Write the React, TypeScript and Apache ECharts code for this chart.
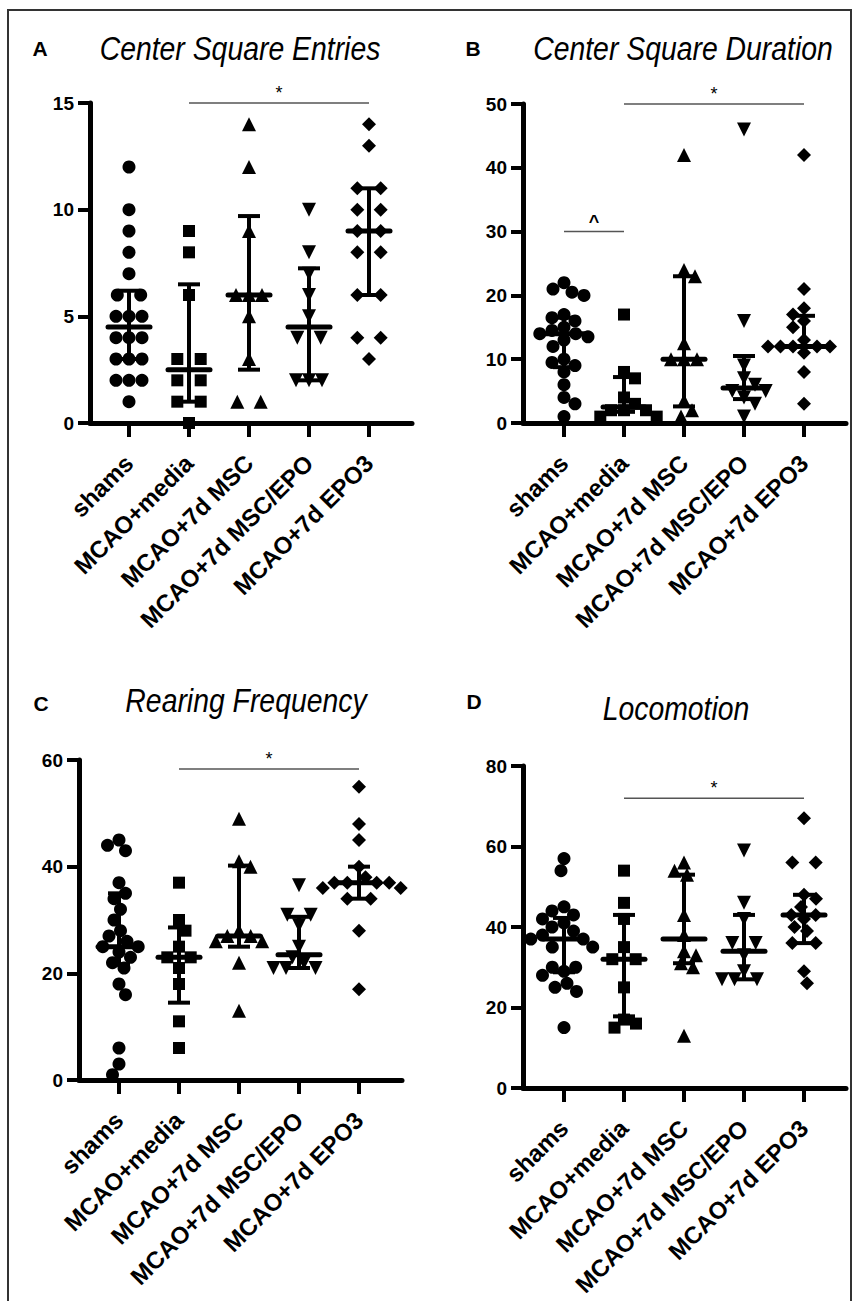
import React, { useEffect, useRef } from "react";
import * as echarts from "echarts";

const categories = ["shams", "MCAO+media", "MCAO+7d MSC", "MCAO+7d MSC/EPO", "MCAO+7d EPO3"];

// A: Center Square Entries
const entriesShams = [12, 10, 9, 8, 7, 6, 6, 5, 5, 5, 4, 4, 4, 3, 3, 3, 2, 2, 2, 1];
const entriesMedia = [9, 8, 6, 3, 3, 2, 2, 1, 1, 0];
const entriesMSC = [14, 12, 9, 6, 6, 6, 5, 3, 1, 1];
const entriesMSCEPO = [10, 8, 7, 6, 5, 4, 4, 2, 2, 2];
const entriesEPO3 = [14, 13, 11, 11, 10, 10, 9, 9, 8, 8, 6, 6, 4, 4, 3];
const entriesMedian = [4.5, 2.5, 6, 4.5, 9];
const entriesQ1 = [3, 1, 2.5, 2, 6];
const entriesQ3 = [6.2, 6.5, 9.7, 7.25, 11];
const entriesSig = [[1, 4, 15]];
const entriesSigMark = ["*"];

// B: Center Square Duration
const durShams = [22, 21, 20.5, 20, 17, 16.5, 16, 15, 14.5, 14, 14, 13.5, 13, 12, 10, 9.5, 9, 8, 6, 4, 3, 1];
const durMedia = [17, 8, 7, 4, 3, 2, 2, 2, 1, 1];
const durMSC = [42, 24, 23, 12.5, 10, 10, 10, 3.5, 2, 1];
const durMSCEPO = [46, 16, 9, 7, 6, 5, 5, 4, 3, 1];
const durEPO3 = [42, 21, 18, 17, 16, 15, 13, 12, 12, 12, 12, 12, 11, 8, 3];
const durMedian = [14, 2.5, 10, 5.5, 12];
const durQ1 = [8.75, 1.75, 2.6, 3.75, 12];
const durQ3 = [16.5, 7.2, 23, 10.5, 16.8];
const durSig = [[1, 4, 50], [0, 1, 30]];
const durSigMark = ["*", "^"];

// C: Rearing Frequency
const rearShams = [45, 44, 43, 37, 35, 34, 32, 30, 28, 27, 26, 25, 25, 24, 23, 22, 21, 18, 16, 6, 3, 1];
const rearMedia = [37, 30, 28, 25, 23, 23, 21, 18, 11, 6];
const rearMSC = [49, 41, 40, 28, 27, 27, 26, 26, 22, 13];
const rearMSCEPO = [36.5, 31, 31, 29, 25, 23, 22, 21, 21, 21];
const rearEPO3 = [55, 48, 45, 40, 38, 37, 37, 37, 37, 36, 36, 34, 34, 28, 17];
const rearMedian = [25, 23, 27, 23.5, 37];
const rearQ1 = [21.6, 14.5, 25, 21, 34];
const rearQ3 = [35, 28.6, 40.2, 30.6, 40];
const rearSig = [[1, 4, 58.3]];
const rearSigMark = ["*"];

// D: Locomotion
const locoShams = [57, 54, 45, 44, 43, 42, 41, 40, 39, 38, 37, 37, 35, 35, 30, 30, 29, 28, 26, 25, 24, 15];
const locoMedia = [54, 46, 42, 35, 32, 32, 25, 17, 16, 15];
const locoMSC = [56, 54, 53, 43, 38, 34, 33, 31, 30, 13];
const locoMSCEPO = [59, 46, 42, 36, 36, 33, 29, 27, 27, 27];
const locoEPO3 = [67, 56, 56, 48, 47, 45, 43, 43, 42, 40, 39, 36, 36, 29, 26];
const locoMedian = [37, 32, 37, 34, 43];
const locoQ1 = [28.75, 17.8, 31, 27, 36];
const locoQ3 = [42.25, 43, 53, 43, 48];
const locoSig = [[1, 4, 72]];
const locoSigMark = ["*"];

const yTicksA = { max: 15, interval: 5 };
const yTicksB = { max: 50, interval: 10 };
const yTicksC = { max: 60, interval: 20 };
const yTicksD = { max: 80, interval: 20 };

const FONT = '"Liberation Sans", Arial, Helvetica, sans-serif';
const CAT_PX = 60;

const panels = [
  {
    letter: "A", title: "Center Square Entries",
    groups: [entriesShams, entriesMedia, entriesMSC, entriesMSCEPO, entriesEPO3],
    med: entriesMedian, q1: entriesQ1, q3: entriesQ3, sig: entriesSig, sigMark: entriesSigMark, y: yTicksA,
    layout: { left: 90, top: 103, width: 322, height: 320, firstCat: 39, letterX: 40, letterY: 48, titleX: 240, titleY: 49 },
  },
  {
    letter: "B", title: "Center Square Duration",
    groups: [durShams, durMedia, durMSC, durMSCEPO, durEPO3],
    med: durMedian, q1: durQ1, q3: durQ3, sig: durSig, sigMark: durSigMark, y: yTicksB,
    layout: { left: 523, top: 104, width: 323, height: 319, firstCat: 41, letterX: 473, letterY: 48, titleX: 683, titleY: 49 },
  },
  {
    letter: "C", title: "Rearing Frequency",
    groups: [rearShams, rearMedia, rearMSC, rearMSCEPO, rearEPO3],
    med: rearMedian, q1: rearQ1, q3: rearQ3, sig: rearSig, sigMark: rearSigMark, y: yTicksC,
    layout: { left: 79, top: 760, width: 323, height: 320, firstCat: 40, letterX: 41, letterY: 703, titleX: 246, titleY: 701 },
  },
  {
    letter: "D", title: "Locomotion",
    groups: [locoShams, locoMedia, locoMSC, locoMSCEPO, locoEPO3],
    med: locoMedian, q1: locoQ1, q3: locoQ3, sig: locoSig, sigMark: locoSigMark, y: yTicksD,
    layout: { left: 523, top: 766, width: 323, height: 322, firstCat: 41, letterX: 474, letterY: 701, titleX: 676, titleY: 709 },
  },
];

const symbols = [
  { symbol: "circle", size: 13, rotate: 0 },
  { symbol: "rect", size: 12, rotate: 0 },
  { symbol: "triangle", size: 14, rotate: 0 },
  { symbol: "triangle", size: 14, rotate: 180 },
  { symbol: "diamond", size: 14, rotate: 0 },
];

// beeswarm-like horizontal spreading in pixel space
function swarm(values: number[], pxY: number, d: number): number[] {
  const order = values.map((_, i) => i).sort((a, b) => values[b] - values[a]);
  const groups: number[][] = [];
  for (const i of order) {
    const g = groups[groups.length - 1];
    if (g && values[g[0]] === values[i]) g.push(i);
    else groups.push([i]);
  }
  const placed: { x: number; y: number }[] = [];
  const off = new Array(values.length).fill(0);
  const free = (x: number, y: number) =>
    placed.every((p) => (p.x - x) * (p.x - x) + (p.y - y) * (p.y - y) >= d * d * 0.9);
  for (const g of groups) {
    const n = g.length;
    const y = values[g[0]] * pxY;
    const slots: number[] = [];
    if (n % 2 === 1) {
      slots.push(0);
      for (let k = 1; slots.length < n; k++) slots.push(k * d, -k * d);
    } else {
      for (let k = 0; slots.length < n; k++) slots.push((k + 0.9) * d, -(k + 0.9) * d);
    }
    for (let j = 0; j < n; j++) {
      const x0 = slots[j];
      const dir = x0 === 0 ? (placed.length % 2 === 0 ? 1 : -1) : Math.sign(x0);
      let x = x0;
      for (let s = 0; s < 800; s++) {
        const a = x0 + dir * s * 0.5;
        const b = x0 - dir * s * 0.5;
        if (free(a, y)) { x = a; break; }
        if (x0 === 0 && free(b, y)) { x = b; break; }
      }
      placed.push({ x, y });
      off[g[j]] = x;
    }
  }
  return off;
}

export default function App() {
  const ref = useRef<HTMLDivElement>(null);
  useEffect(() => {
    if (!ref.current) return;
    const chart = echarts.init(ref.current, undefined, { renderer: "svg" });
    const grid: any[] = [];
    const xAxis: any[] = [];
    const yAxis: any[] = [];
    const series: any[] = [];
    const graphic: any[] = [];

    graphic.push({
      type: "rect", shape: { x: 8, y: 10, width: 843, height: 1330 },
      style: { fill: "none", stroke: "#333", lineWidth: 2 }, silent: true,
    });

    panels.forEach((p, pi) => {
      const L = p.layout;
      grid.push({ left: L.left, top: L.top, width: L.width, height: L.height, containLabel: false });
      const xMin = -L.firstCat / CAT_PX;
      const xMax = xMin + L.width / CAT_PX;
      xAxis.push({
        type: "value", gridIndex: pi, min: xMin, max: xMax,
        axisLine: { show: true, onZero: false, lineStyle: { color: "#000", width: 5 } },
        axisTick: { show: true, customValues: [0, 1, 2, 3, 4], length: 14, lineStyle: { color: "#000", width: 4 } },
        axisLabel: {
          customValues: [0, 1, 2, 3, 4],
          formatter: (v: number) => categories[Math.round(v)] ?? "",
          rotate: 45, margin: 36, color: "#000", fontSize: 24, fontWeight: "bold", fontFamily: FONT,
        },
        splitLine: { show: false },
      });
      yAxis.push({
        type: "value", gridIndex: pi, min: 0, max: p.y.max, interval: p.y.interval,
        axisLine: { show: true, onZero: false, lineStyle: { color: "#000", width: 5 } },
        axisTick: { show: true, length: 12, lineStyle: { color: "#000", width: 4 } },
        axisLabel: { margin: 16, color: "#000", fontSize: 19, fontWeight: "bold", fontFamily: FONT },
        splitLine: { show: false },
      });

      const pxY = L.height / p.y.max;
      p.groups.forEach((vals, gi) => {
        const s = symbols[gi];
        const off = swarm(vals, pxY, 13);
        series.push({
          type: "scatter", xAxisIndex: pi, yAxisIndex: pi, silent: true,
          symbol: s.symbol, symbolSize: s.size, symbolRotate: s.rotate,
          itemStyle: { color: "#000", opacity: 1 },
          data: vals.map((v, i) => [gi + off[i] / CAT_PX, v]),
          z: 2,
        });
      });

      series.push({
        type: "custom", xAxisIndex: pi, yAxisIndex: pi, silent: true, z: 3,
        data: p.med.map((m, i) => [i, m, p.q1[i], p.q3[i]]),
        encode: { x: 0, y: 1 },
        renderItem: (params: any, api: any) => {
          const x = api.value(0);
          const pm = api.coord([x, api.value(1)]);
          const pl = api.coord([x, api.value(2)]);
          const ph = api.coord([x, api.value(3)]);
          const st = { stroke: "#000", lineWidth: 4 };
          return {
            type: "group",
            children: [
              { type: "line", shape: { x1: pl[0], y1: pl[1], x2: ph[0], y2: ph[1] }, style: st },
              { type: "line", shape: { x1: pl[0] - 11, y1: pl[1], x2: pl[0] + 11, y2: pl[1] }, style: st },
              { type: "line", shape: { x1: ph[0] - 11, y1: ph[1], x2: ph[0] + 11, y2: ph[1] }, style: st },
              { type: "line", shape: { x1: pm[0] - 21, y1: pm[1], x2: pm[0] + 21, y2: pm[1] }, style: { stroke: "#000", lineWidth: 5, lineCap: "round" } },
            ],
          };
        },
      });

      series.push({
        type: "custom", xAxisIndex: pi, yAxisIndex: pi, silent: true, z: 3,
        data: p.sig.map((s) => [s[0], s[1], s[2]]),
        encode: { x: [0, 1], y: 2 },
        renderItem: (params: any, api: any) => {
          const a = api.coord([api.value(0), api.value(2)]);
          const b = api.coord([api.value(1), api.value(2)]);
          const mark = p.sigMark[params.dataIndex];
          return {
            type: "group",
            children: [
              { type: "line", shape: { x1: a[0], y1: a[1], x2: b[0], y2: b[1] }, style: { stroke: "#555", lineWidth: 1.5 } },
              {
                type: "text", x: (a[0] + b[0]) / 2, y: a[1] - 10,
                style: {
                  text: mark, fill: "#000", fontSize: 18, fontFamily: FONT,
                  fontWeight: mark === "^" ? "bold" : "normal",
                  align: "center", verticalAlign: "middle", textAlign: "center", textVerticalAlign: "middle",
                },
              },
            ],
          };
        },
      });

      graphic.push({
        type: "text", x: L.letterX, y: L.letterY, silent: true,
        style: {
          text: p.letter, fill: "#000", fontSize: 21, fontWeight: "bold", fontFamily: FONT,
          align: "center", verticalAlign: "middle", textAlign: "center", textVerticalAlign: "middle",
        },
      });
      graphic.push({
        type: "text", x: L.titleX, y: L.titleY, scaleX: 0.86, silent: true,
        style: {
          text: p.title, fill: "#000", fontSize: 33, fontStyle: "italic", fontFamily: FONT,
          align: "center", verticalAlign: "middle", textAlign: "center", textVerticalAlign: "middle",
        },
      });
    });

    chart.setOption({
      animation: false,
      backgroundColor: "#fff",
      grid, xAxis, yAxis, series, graphic,
    });
    return () => chart.dispose();
  }, []);
  return <div ref={ref} style={{ position: "absolute", left: 0, top: 0, width: 857, height: 1301 }} />;
}
